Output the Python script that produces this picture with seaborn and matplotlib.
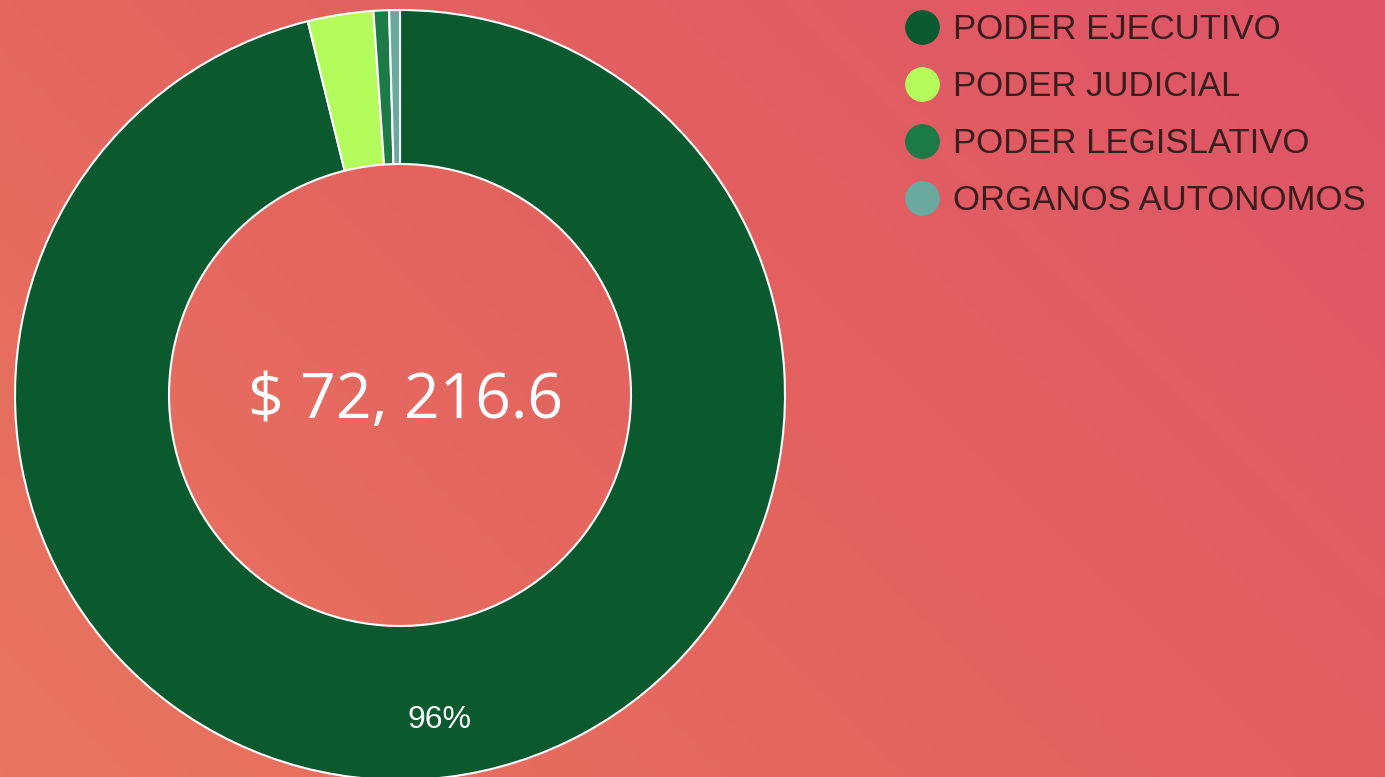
import numpy as np
import seaborn as sns
import matplotlib.pyplot as plt
from matplotlib.lines import Line2D
from matplotlib.colors import LinearSegmentedColormap

# datos
ramos = ["PODER EJECUTIVO", "PODER JUDICIAL", "PODER LEGISLATIVO", "ORGANOS AUTONOMOS"]
montos = [69435.6, 1986.0, 470.0, 325.0]
total_txt = "$ 72, 216.6"
colores = ["#0b5a2f", "#b3fc5c", "#1b7a46", "#6aa99e"]

sns.set_theme(style="white")
plt.rcParams["font.family"] = ["Liberation Sans", "DejaVu Sans"]

W, H = 1385, 777
fig = plt.figure(figsize=(W / 100, H / 100), dpi=100)
ax = fig.add_axes([0, 0, 1, 1])

# fondo degradado (abajo-izq naranja -> arriba-der rosa)
xx, yy = np.meshgrid(np.linspace(0, 1, 300), np.linspace(0, 1, 200))
g = (xx * W + yy * H) / (W + H)
cmap = LinearSegmentedColormap.from_list("bg", ["#e97560", "#e3635f", "#df5468"])
ax.imshow(g, extent=[0, W, 0, H], origin="lower", cmap=cmap, aspect="auto", zorder=0)

pal = sns.color_palette(colores)


def pct(p):
    return f"{p:.0f}%" if p > 50 else ""


wedges, _, autotexts = ax.pie(
    montos, colors=pal, startangle=90, counterclock=False,
    center=(400, 382), radius=385, autopct=pct, pctdistance=0.85,
    wedgeprops=dict(width=385 * 0.4, edgecolor="white", linewidth=1.5),
    textprops=dict(color="white", fontsize=23), frame=True,
)
for w in wedges:
    w.set_zorder(2)
ax.set_xlim(0, W)
ax.set_ylim(0, H)
ax.axis("off")

ax.text(405, 375, total_txt, ha="center", va="center", color="white",
        fontsize=45, family=["Open Sans", "DejaVu Sans"], zorder=3)

handles = [Line2D([], [], marker="o", linestyle="", markersize=24,
                  markerfacecolor=c, markeredgecolor=c) for c in pal]
fig.legend(handles, ramos, loc="upper left", bbox_to_anchor=(880 / W, 1.0056),
           frameon=False, fontsize=25, labelcolor="#3a1e1e",
           handletextpad=0.2, labelspacing=0.69, handlelength=1.4, borderpad=0)

fig.savefig("out.png", dpi=100)
